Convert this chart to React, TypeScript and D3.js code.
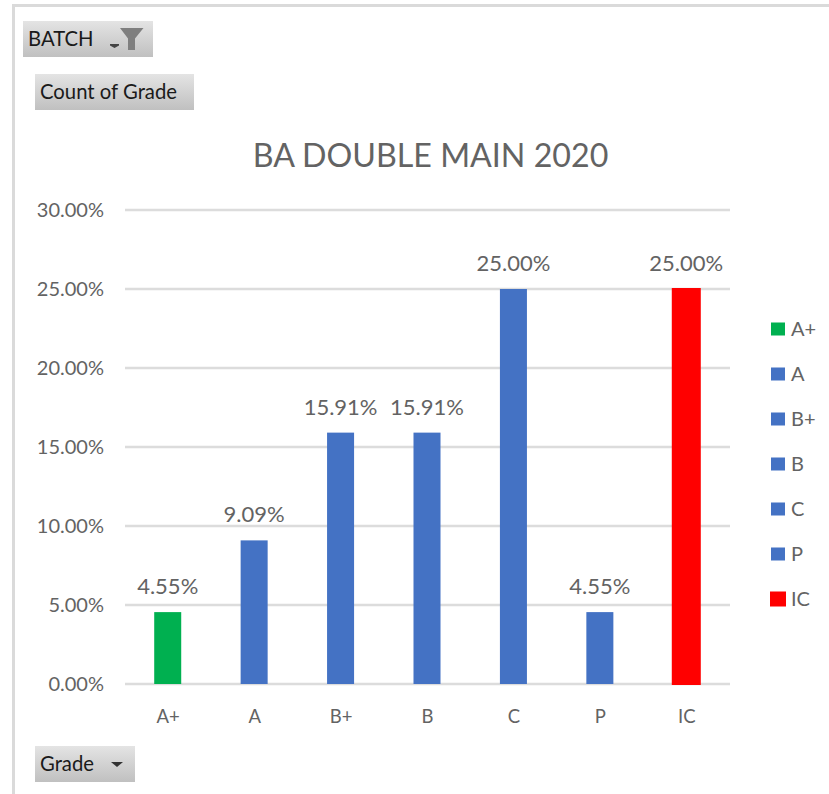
import React from "react";
import * as d3 from "d3";

const grades = ["A+", "A", "B+", "B", "C", "P", "IC"];
const shares = [4.55, 9.09, 15.91, 15.91, 25.0, 4.55, 25.0];
const barColors = ["#00B050", "#4472C4", "#4472C4", "#4472C4", "#4472C4", "#4472C4", "#FF0000"];
const yTicks = [0, 5, 10, 15, 20, 25, 30];
const title = "BA DOUBLE MAIN 2020";

const font = "Lato, Carlito, 'Open Sans', sans-serif";
const textColor = "#636363";

function FieldButton({ x, y, w, h, label, gid, fs = 20.3 }: { x: number; y: number; w: number; h: number; label: string; gid: string; fs?: number }) {
  return (
    <g>
      <rect x={x} y={y} width={w} height={h} fill={`url(#${gid})`} />
      <text x={x + 5} y={y + h / 2 + 7} fontFamily={font} fontSize={fs} fill="#1a1a1a">{label}</text>
    </g>
  );
}

export default function App() {
  const x = d3.scaleBand<string>().domain(grades).range([124.5, 729.5]).paddingInner(0.6875).paddingOuter(0.34375);
  const y = d3.scaleLinear().domain([0, 30]).range([684, 210]);
  const legendY = d3.scalePoint<string>().domain(grades).range([329, 599]);

  return (
    <svg width={829} height={794} style={{ position: "absolute", left: 0, top: 0 }}>
      <defs>
        <linearGradient id="btn" x1="0" y1="0" x2="0" y2="1">
          <stop offset="0" stopColor="#E4E4E4" />
          <stop offset="1" stopColor="#C0C0C0" />
        </linearGradient>
      </defs>
      <rect width={829} height={794} fill="#fff" />
      <rect x={12} y={4} width={3} height={790} fill="#DADADA" />
      <rect x={12} y={4} width={817} height={3} fill="#DADADA" />

      <FieldButton x={23} y={21} w={130} h={36} label="BATCH" gid="btn" />
      <path d="M110 44h9v1.5l-4.5 2.5-4.5-2.5z" fill="#444" />
      <path d="M120 28h23.5l-8.5 10.5V50h-7V38.5z" fill="#7F7F7F" />
      <FieldButton x={35} y={74} w={159} h={36} label="Count of Grade" gid="btn" />
      <FieldButton x={35} y={746} w={100} h={36} label="Grade" gid="btn" />
      <path d="M111 762h12l-6 5z" fill="#333" />

      <text x={430.5} y={167} textAnchor="middle" fontFamily={font} fontSize={32.2} fill={textColor}>{title}</text>

      {yTicks.map((t) => (
        <g key={t}>
          <line x1={125} x2={730} y1={y(t)} y2={y(t)} stroke="#DCDCDC" strokeWidth={2.4} />
          <text x={104} y={y(t) + 7} textAnchor="end" fontFamily={font} fontSize={20} fill={textColor}>{t.toFixed(2)}%</text>
        </g>
      ))}

      {grades.map((g, i) => (
        <g key={g}>
          <rect
            x={x(g)}
            y={y(shares[i])}
            width={x.bandwidth()}
            height={y(0) - y(shares[i])}
            fill={barColors[i]}
            stroke={g === "IC" ? barColors[i] : "none"}
            strokeWidth={g === "IC" ? 2 : 0}
          />
          <text x={x(g)! + x.bandwidth() / 2} y={y(shares[i]) - 18} textAnchor="middle" fontFamily={font} fontSize={22} fill={textColor}>{shares[i].toFixed(2)}%</text>
          <text x={x(g)! + x.bandwidth() / 2 + 0.5} y={723} textAnchor="middle" fontFamily={font} fontSize={18.5} fill={textColor}>{g}</text>
          <rect x={g === "IC" ? 770 : 771} y={legendY(g)! - (g === "IC" ? 7.5 : 6.5)} width={g === "IC" ? 16 : 14} height={g === "IC" ? 15 : 13} fill={barColors[i]} />
          <text x={791} y={legendY(g)! + 7} fontFamily={font} fontSize={20} fill={textColor}>{g}</text>
        </g>
      ))}
    </svg>
  );
}
